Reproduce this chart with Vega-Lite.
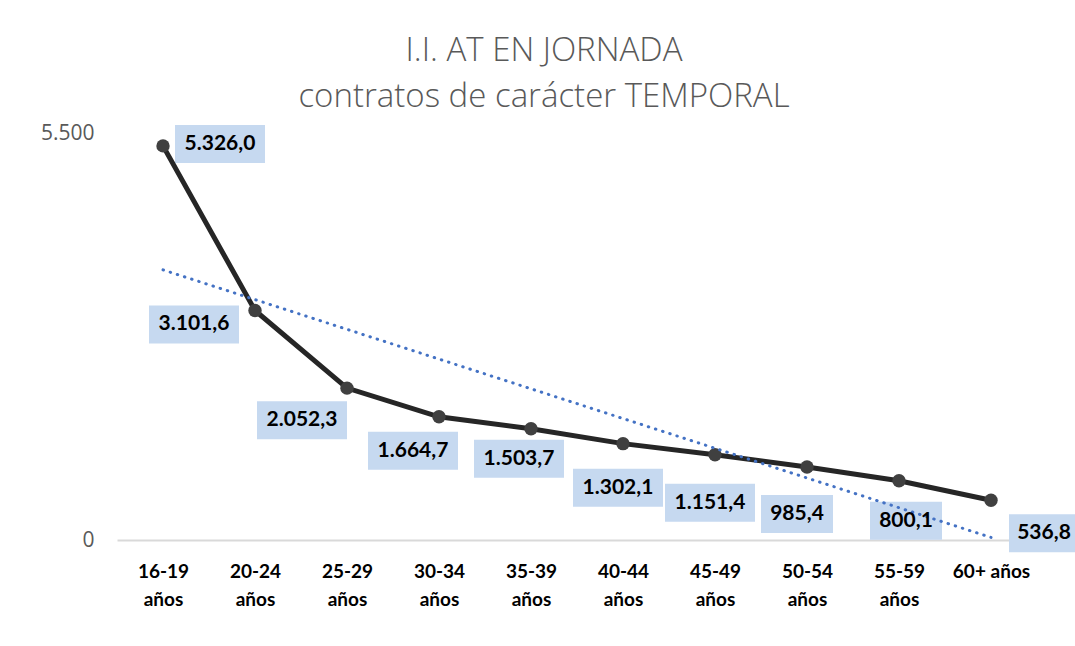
{
  "$schema": "https://vega.github.io/schema/vega-lite/v6.json",
  "autosize": "none",
  "width": 920,
  "height": 407,
  "padding": {"left": 117, "top": 133, "right": 38, "bottom": 106},
  "background": "white",
  "config": {
    "view": {"stroke": null},
    "font": "Lato",
    "locale": {"number": {"decimal": ",", "thousands": ".", "grouping": [3], "currency": ["", " €"]}}
  },
  "title": {
    "text": ["I.I. AT EN JORNADA", "contratos de carácter TEMPORAL"],
    "font": "Open Sans",
    "fontSize": 33,
    "fontWeight": 300,
    "color": "#595959",
    "lineHeight": 46,
    "anchor": "middle",
    "frame": "group",
    "dx": -33,
    "offset": 8
  },
  "datasets": {
    "d": [
      {"g": "16-19 años", "v": 5326.0, "i": 1},
      {"g": "20-24 años", "v": 3101.6, "i": 2},
      {"g": "25-29 años", "v": 2052.3, "i": 3},
      {"g": "30-34 años", "v": 1664.7, "i": 4},
      {"g": "35-39 años", "v": 1503.7, "i": 5},
      {"g": "40-44 años", "v": 1302.1, "i": 6},
      {"g": "45-49 años", "v": 1151.4, "i": 7},
      {"g": "50-54 años", "v": 985.4, "i": 8},
      {"g": "55-59 años", "v": 800.1, "i": 9},
      {"g": "60+ años", "v": 536.8, "i": 10}
    ]
  },
  "data": {"name": "d"},
  "encoding": {
    "x": {
      "field": "g",
      "type": "nominal",
      "sort": null,
      "scale": {
        "type": "point",
        "padding": 0.5,
        "domain": ["16-19 años", "20-24 años", "25-29 años", "30-34 años", "35-39 años", "40-44 años", "45-49 años", "50-54 años", "55-59 años", "60+ años"]
      },
      "axis": {
        "title": null,
        "labelAngle": 0,
        "ticks": false,
        "grid": false,
        "domainColor": "#D9D9D9",
        "domainWidth": 2,
        "labelFont": "Lato",
        "labelFontSize": 19,
        "labelFontWeight": "bold",
        "labelColor": "#000000",
        "labelPadding": 22,
        "labelLineHeight": 28,
        "labelExpr": "datum.value == '60+ años' ? datum.value : split(datum.value, ' ')"
      }
    },
    "y": {
      "field": "v",
      "type": "quantitative",
      "scale": {"domain": [0, 5500], "nice": false, "zero": true},
      "axis": {
        "title": null,
        "values": [0, 5500],
        "labelExpr": "datum.value == 5500 ? '5.500' : '0'",
        "domain": false,
        "ticks": false,
        "grid": false,
        "labelFont": "Open Sans",
        "labelFontSize": 21,
        "labelColor": "#595959",
        "labelPadding": 23
      }
    }
  },
  "layer": [
    {
      "mark": {"type": "point", "filled": true, "size": 4, "opacity": 1, "color": "#C6D9F0", "strokeWidth": 0},
      "encoding": {
        "shape": {
          "field": "g",
          "type": "nominal",
          "legend": null,
          "scale": {
            "domain": ["16-19 años", "20-24 años", "25-29 años", "30-34 años", "35-39 años", "40-44 años", "45-49 años", "50-54 años", "55-59 años", "60+ años"],
            "range": [
              "M12,-21H102V17H12Z",
              "M-106,-5H-16V33H-106Z",
              "M-90,13H0V51H-90Z",
              "M-71,15H19V53H-71Z",
              "M-57,11H33V49H-57Z",
              "M-50,25H40V63H-50Z",
              "M-50,29H40V67H-50Z",
              "M-46,28H26V66H-46Z",
              "M-29,21H43V59H-29Z",
              "M18,14H90V52H18Z"
            ]
          }
        }
      }
    },
    {
      "mark": {"type": "line", "color": "#262626", "strokeWidth": 5},
      "encoding": {}
    },
    {
      "mark": {"type": "point", "filled": true, "size": 180, "opacity": 1, "color": "#404040", "strokeWidth": 0},
      "encoding": {}
    },
    {
      "transform": [
        {"regression": "v", "on": "i"},
        {"lookup": "i", "from": {"data": {"name": "d"}, "key": "i", "fields": ["g"]}}
      ],
      "mark": {"type": "line", "color": "#4472C4", "strokeWidth": 3, "strokeCap": "round", "strokeDash": [0.5, 7]},
      "encoding": {}
    },
    {
      "transform": [{"filter": "datum.i == 1"}],
      "mark": {"type": "text", "font": "Lato", "fontSize": 21, "fontWeight": "bold", "color": "#000000", "baseline": "middle", "align": "center", "xOffset": 57, "yOffset": -2},
      "encoding": {"text": {"field": "v", "type": "quantitative", "format": ",.1f"}}
    },
    {
      "transform": [{"filter": "datum.i == 2"}],
      "mark": {"type": "text", "font": "Lato", "fontSize": 21, "fontWeight": "bold", "color": "#000000", "baseline": "middle", "align": "center", "xOffset": -61, "yOffset": 14},
      "encoding": {"text": {"field": "v", "type": "quantitative", "format": ",.1f"}}
    },
    {
      "transform": [{"filter": "datum.i == 3"}],
      "mark": {"type": "text", "font": "Lato", "fontSize": 21, "fontWeight": "bold", "color": "#000000", "baseline": "middle", "align": "center", "xOffset": -45, "yOffset": 32},
      "encoding": {"text": {"field": "v", "type": "quantitative", "format": ",.1f"}}
    },
    {
      "transform": [{"filter": "datum.i == 4"}],
      "mark": {"type": "text", "font": "Lato", "fontSize": 21, "fontWeight": "bold", "color": "#000000", "baseline": "middle", "align": "center", "xOffset": -26, "yOffset": 34},
      "encoding": {"text": {"field": "v", "type": "quantitative", "format": ",.1f"}}
    },
    {
      "transform": [{"filter": "datum.i == 5"}],
      "mark": {"type": "text", "font": "Lato", "fontSize": 21, "fontWeight": "bold", "color": "#000000", "baseline": "middle", "align": "center", "xOffset": -12, "yOffset": 30},
      "encoding": {"text": {"field": "v", "type": "quantitative", "format": ",.1f"}}
    },
    {
      "transform": [{"filter": "datum.i == 6"}],
      "mark": {"type": "text", "font": "Lato", "fontSize": 21, "fontWeight": "bold", "color": "#000000", "baseline": "middle", "align": "center", "xOffset": -5, "yOffset": 44},
      "encoding": {"text": {"field": "v", "type": "quantitative", "format": ",.1f"}}
    },
    {
      "transform": [{"filter": "datum.i == 7"}],
      "mark": {"type": "text", "font": "Lato", "fontSize": 21, "fontWeight": "bold", "color": "#000000", "baseline": "middle", "align": "center", "xOffset": -5, "yOffset": 48},
      "encoding": {"text": {"field": "v", "type": "quantitative", "format": ",.1f"}}
    },
    {
      "transform": [{"filter": "datum.i == 8"}],
      "mark": {"type": "text", "font": "Lato", "fontSize": 21, "fontWeight": "bold", "color": "#000000", "baseline": "middle", "align": "center", "xOffset": -10, "yOffset": 47},
      "encoding": {"text": {"field": "v", "type": "quantitative", "format": ",.1f"}}
    },
    {
      "transform": [{"filter": "datum.i == 9"}],
      "mark": {"type": "text", "font": "Lato", "fontSize": 21, "fontWeight": "bold", "color": "#000000", "baseline": "middle", "align": "center", "xOffset": 7, "yOffset": 40},
      "encoding": {"text": {"field": "v", "type": "quantitative", "format": ",.1f"}}
    },
    {
      "transform": [{"filter": "datum.i == 10"}],
      "mark": {"type": "text", "font": "Lato", "fontSize": 21, "fontWeight": "bold", "color": "#000000", "baseline": "middle", "align": "center", "xOffset": 53, "yOffset": 33},
      "encoding": {"text": {"field": "v", "type": "quantitative", "format": ",.1f"}}
    }
  ]
}
